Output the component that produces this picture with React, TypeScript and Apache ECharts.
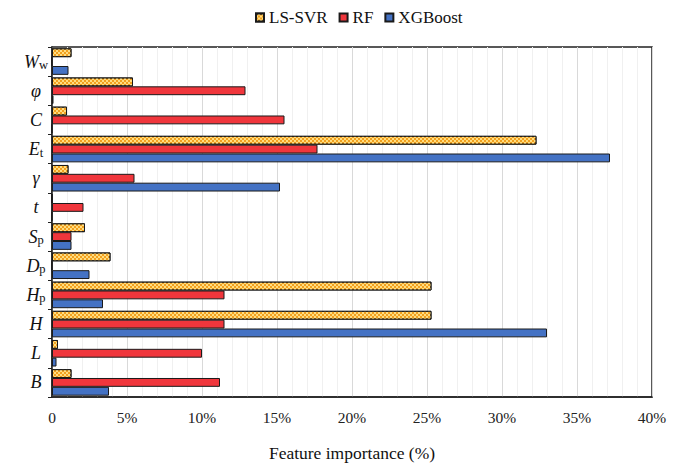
import React, { useEffect, useRef } from "react";
import * as echarts from "echarts";

const categories = ["Ww", "phi", "C", "Et", "gamma", "t", "Sp", "Dp", "Hp", "H", "L", "B"];
const categoryLabels = [
  "{i|W}{s|w}",
  "{i|φ}",
  "{i|C}",
  "{i|E}{s|t}",
  "{i|γ}",
  "{i|t}",
  "{i|S}{s|p}",
  "{i|D}{s|p}",
  "{i|H}{s|p}",
  "{i|H}",
  "{i|L}",
  "{i|B}",
];
const seriesNames = ["LS-SVR", "RF", "XGBoost"];
const lsSvr = [1.3, 5.4, 1.0, 32.3, 1.1, 0, 2.2, 3.9, 25.3, 25.3, 0.4, 1.3];
const rf = [0, 12.9, 15.5, 17.7, 5.5, 2.1, 1.3, 0, 11.5, 11.5, 10.0, 11.2];
const xgb = [1.1, 0.1, 0, 37.2, 15.2, 0, 1.3, 2.5, 3.4, 33.0, 0.3, 3.8];
const xTicks = [0, 5, 10, 15, 20, 25, 30, 35, 40];

const SERIF = "'Liberation Serif', 'Times New Roman', serif";

export default function App() {
  const ref = useRef<HTMLDivElement>(null);
  useEffect(() => {
    if (!ref.current) return;
    const chart = echarts.init(ref.current, undefined, { renderer: "svg" });
    const labelMap: Record<string, string> = {};
    categories.forEach((c, i) => (labelMap[c] = categoryLabels[i]));
    const border = { borderColor: "#1a1a1a", borderWidth: 1 };
    chart.setOption({
      animation: false,
      backgroundColor: "#ffffff",
      legend: {
        data: seriesNames,
        top: 4,
        left: 250,
        itemWidth: 8,
        itemHeight: 8,
        itemGap: 11,
        icon: "rect",
        textStyle: { fontFamily: SERIF, fontSize: 17, color: "#111" },
      },
      grid: {
        left: 52,
        right: 31,
        top: 47,
        bottom: 65,
        show: true,
        borderColor: "#222",
        borderWidth: 1.5,
        backgroundColor: "transparent",
      },
      xAxis: {
        type: "value",
        min: xTicks[0],
        max: xTicks[xTicks.length - 1],
        interval: 5,
        name: "Feature importance (%)",
        nameLocation: "middle",
        nameGap: 47,
        nameTextStyle: { fontFamily: SERIF, fontSize: 17.5, color: "#111" },
        axisLine: { show: true, lineStyle: { color: "#222", width: 1.5 } },
        axisTick: { show: false },
        axisLabel: {
          fontFamily: SERIF,
          fontSize: 15.5,
          color: "#222",
          margin: 12,
          formatter: (v: number) => (v === 0 ? "0" : v + "%"),
        },
        splitLine: { show: true, lineStyle: { color: "#d9d9d9", width: 1 } },
        minorSplitLine: { show: true, lineStyle: { color: "#f0f0f0", width: 1 } },
        minorTick: { show: false, splitNumber: 5 },
      },
      yAxis: {
        type: "category",
        data: categories,
        inverse: true,
        axisLine: { show: true, lineStyle: { color: "#222", width: 1.5 } },
        axisTick: { show: true, length: 4, lineStyle: { color: "#222" } },
        axisLabel: {
          align: "center",
          margin: 16,
          formatter: (v: string) => labelMap[v],
          rich: {
            i: {
              fontFamily: SERIF,
              fontStyle: "italic",
              fontSize: 18,
              color: "#111",
              lineHeight: 20,
            },
            s: {
              fontFamily: SERIF,
              fontSize: 12.5,
              color: "#111",
              lineHeight: 10,
              verticalAlign: "bottom",
            },
          },
        },
        splitLine: { show: false },
      },
      series: [
        {
          name: seriesNames[0],
          type: "bar",
          data: lsSvr,
          barGap: "0%",
          barCategoryGap: "9%",
          itemStyle: {
            color: "#F2A01E",
            ...border,
            decal: {
              symbol: "rect",
              symbolSize: 1,
              color: "#FFDD80",
              dashArrayX: [
                [2, 2],
                [0, 2, 2, 0],
              ],
              dashArrayY: [2, 0],
              rotation: 0,
            },
          },
        },
        {
          name: seriesNames[1],
          type: "bar",
          data: rf,
          barGap: "0%",
          barCategoryGap: "9%",
          itemStyle: { color: "#F0363C", ...border },
        },
        {
          name: seriesNames[2],
          type: "bar",
          data: xgb,
          barGap: "0%",
          barCategoryGap: "9%",
          itemStyle: { color: "#4472C4", ...border },
        },
      ],
    });
    return () => chart.dispose();
  }, []);
  return <div ref={ref} style={{ width: 683, height: 467, position: "absolute", left: 0, top: 0 }} />;
}
